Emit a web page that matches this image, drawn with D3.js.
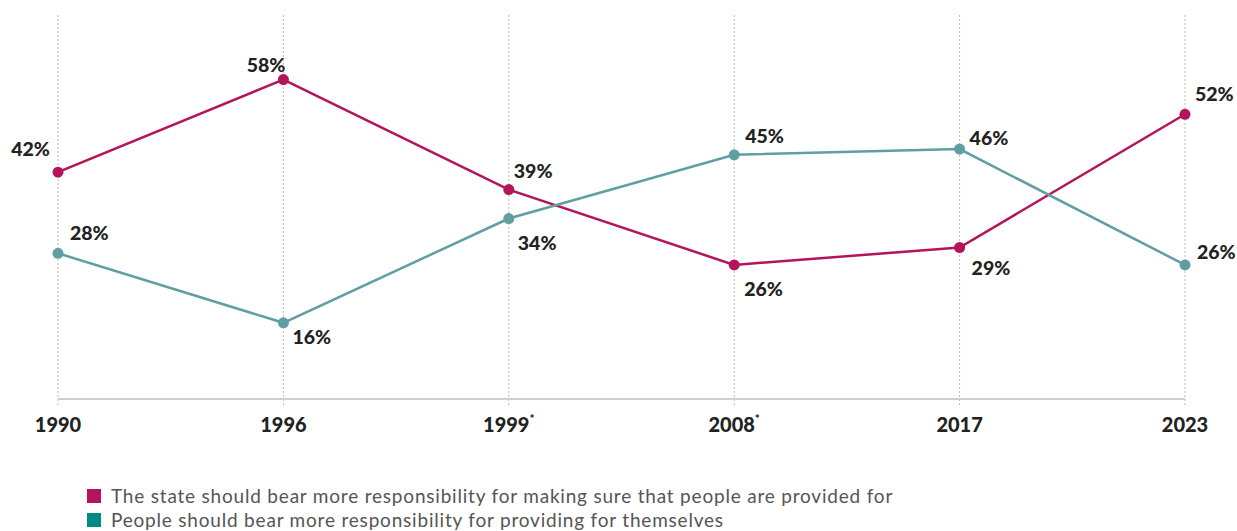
<!DOCTYPE html>
<html><head><meta charset="utf-8">
<script src="https://cdn.jsdelivr.net/npm/d3@7"></script>
<style>
html,body{margin:0;padding:0;background:#fff;}
svg{display:block;}
</style></head>
<body>
<svg id="chart" width="1237" height="531"></svg>
<script>
const years = ["1990","1996","1999","2008","2017","2023"];
const yearMarks = ["","","*","*","",""];
const stateValues = [42,58,39,26,29,52];
const peopleValues = [28,16,34,45,46,26];
const seriesNames = [
  "The state should bear more responsibility for making sure that people are provided for",
  "People should bear more responsibility for providing for themselves"
];
// label placement per point (layout only): [dx, dy, anchor]
const stateLabelPos = [[-8,-16,"end"],[2,-8,"end"],[5,-12,"start"],[10,31,"start"],[12,27,"start"],[10,-13,"start"]];
const peopleLabelPos = [[12,-13,"start"],[9,21,"start"],[9,31,"start"],[11,-12,"start"],[10,-4,"start"],[12,-6,"start"]];

const svg = d3.select("#chart");
const x = d3.scalePoint().domain(years).range([58,1185]);
const y = d3.scaleLinear().domain([0,70]).range([415.5,10]);
const plotTop = 15, axisY = 399;

const red = "#b3145a", teal = "#5f9fa2";
const legendRed = "#b3145a", legendTeal = "#008a84";

// grid lines
svg.append("g").selectAll("line").data(years).join("line")
  .attr("x1", d=>x(d)).attr("x2", d=>x(d))
  .attr("y1", plotTop).attr("y2", axisY+7)
  .attr("stroke","#bbb").attr("stroke-width",1).attr("stroke-dasharray","2,2");

// axis line
svg.append("line").attr("x1", x(years[0])).attr("x2", x(years[years.length-1]))
  .attr("y1", axisY).attr("y2", axisY).attr("stroke","#cfcfcf").attr("stroke-width",2);

// x labels
const xl = svg.append("g").selectAll("text").data(years).join("text")
  .attr("x", d=>x(d)).attr("y", 432).attr("text-anchor","middle")
  .attr("font-family","Lato, sans-serif").attr("font-weight","900").attr("font-size",20)
  .attr("fill","#222");
xl.append("tspan").text(d=>d);
xl.append("tspan").text((d,i)=>yearMarks[i]).attr("font-size",12).attr("dy",-9);

const line = d3.line().x((d,i)=>x(years[i])).y(d=>y(d));

function drawSeries(vals, color, pos){
  const g = svg.append("g");
  g.append("path").datum(vals).attr("d", line).attr("fill","none")
    .attr("stroke", color).attr("stroke-width",2.5);
  g.selectAll("circle").data(vals).join("circle")
    .attr("cx",(d,i)=>x(years[i])).attr("cy", d=>y(d)).attr("r",5.5).attr("fill",color);
  g.selectAll("text").data(vals).join("text")
    .attr("x",(d,i)=>x(years[i]) + pos[i][0])
    .attr("y",(d,i)=>y(d) + pos[i][1])
    .attr("text-anchor",(d,i)=>pos[i][2])
    .attr("font-family","Lato, sans-serif").attr("font-weight","900").attr("font-size",19.5)
    .attr("fill","#222").text(d=>d+"%");
}
drawSeries(stateValues, red, stateLabelPos);
drawSeries(peopleValues, teal, peopleLabelPos);

// legend
const lg = svg.append("g").selectAll("g").data(seriesNames).join("g")
  .attr("transform",(d,i)=>`translate(87,${489+i*24})`);
lg.append("rect").attr("width",14).attr("height",14)
  .attr("fill",(d,i)=>i===0?legendRed:legendTeal);
lg.append("text").attr("x",24).attr("y",14).attr("font-family","Lato, sans-serif")
  .attr("font-weight","400").attr("font-size",19).attr("letter-spacing",0.8)
  .attr("fill","#555").text(d=>d);
</script>
</body></html>
